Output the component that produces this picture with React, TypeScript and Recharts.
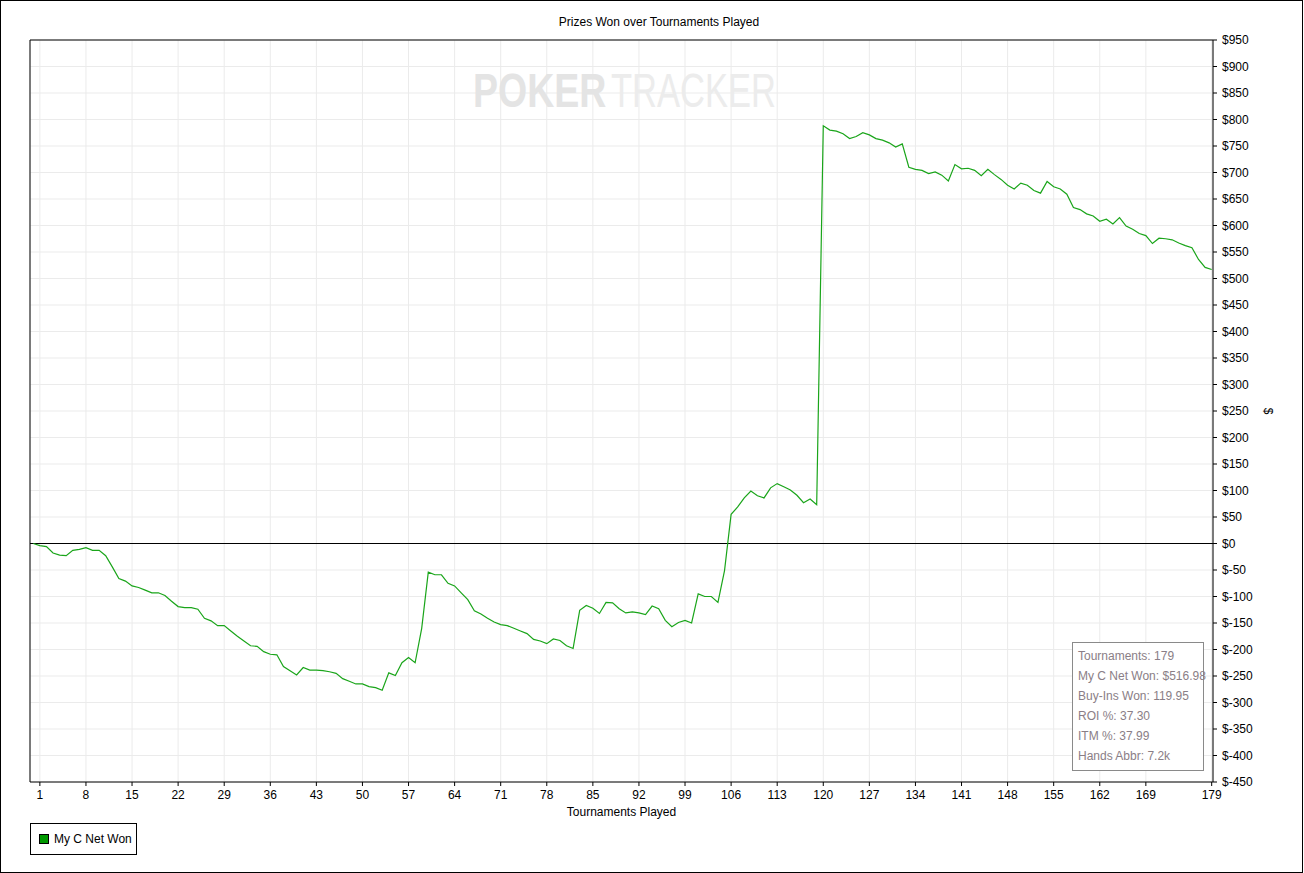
import React from 'react';
import { LineChart, Line, XAxis, YAxis, CartesianGrid, ReferenceLine } from 'recharts';

const tournaments: number[] = Array.from({ length: 180 }, (_, i) => i);
const netWon: number[] = [
  0, -4, -6, -18, -22, -23, -13, -11, -8, -13,
  -13, -23, -44, -66, -71, -80, -83, -88, -93, -93,
  -98, -109, -119, -121, -121, -124, -141, -146, -155, -155,
  -165, -175, -184, -193, -194, -204, -209, -210, -232, -240,
  -248, -234, -239, -239, -240, -242, -245, -255, -260, -265,
  -265, -270, -272, -277, -244, -249, -225, -215, -225, -160,
  -54, -59, -59, -75, -80, -93, -106, -127, -133, -141,
  -148, -153, -155, -160, -165, -170, -181, -184, -189, -180,
  -183, -193, -198, -126, -117, -122, -132, -111, -112, -123,
  -131, -129, -131, -134, -118, -123, -145, -157, -149, -145,
  -150, -95, -100, -100, -111, -51, 55, 69, 86, 99,
  90, 86, 105, 113, 107, 101, 91, 77, 84, 73,
  788, 780, 778, 773, 764, 768, 775, 771, 764, 761,
  756, 748, 754, 710, 706, 704, 698, 701, 695, 684,
  715, 707, 708, 704, 694, 706, 696, 687, 676, 669,
  680, 676, 666, 661, 683, 673, 669, 659, 634, 630,
  622, 618, 608, 612, 603, 615, 599, 593, 585, 581,
  566, 576, 575, 573, 567, 562, 558, 536, 521, 517,
];
const xTicks: number[] = [1, 8, 15, 22, 29, 36, 43, 50, 57, 64, 71, 78, 85, 92, 99, 106, 113, 120, 127, 134, 141, 148, 155, 162, 169, 179];
const yTicks: number[] = [-450, -400, -350, -300, -250, -200, -150, -100, -50, 0, 50, 100, 150, 200, 250, 300, 350, 400, 450, 500, 550, 600, 650, 700, 750, 800, 850, 900, 950];
const statsLines: string[] = [
  'Tournaments: 179',
  'My C Net Won: $516.98',
  'Buy-Ins Won: 119.95',
  'ROI %: 37.30',
  'ITM %: 37.99',
  'Hands Abbr: 7.2k',
];
const seriesName = 'My C Net Won';
const chartTitle = 'Prizes Won over Tournaments Played';
const xTitle = 'Tournaments Played';
const yTitle = '$';
const watermarkBold = 'POKER';
const watermarkLight = 'TRACKER';

const data = tournaments.map((t, i) => ({ t, v: netWon[i] }));

const FONT = 'Arial, "Liberation Sans", sans-serif';

const fmtDollar = (v: number) => (v < 0 ? `$-${Math.abs(v)}` : `$${v}`);

export default function App() {
  return (
    <div style={{ position: 'absolute', left: 0, top: 0, width: 1304, height: 873, background: '#fff', fontFamily: FONT }}>
      <div
        style={{
          position: 'absolute', left: 0, top: 15, width: 659 * 2, textAlign: 'center',
          fontSize: 12, lineHeight: '14px', color: '#000',
        }}
      >
        {chartTitle}
      </div>
      <div style={{ position: 'absolute', left: 0, top: 0 }}>
        <LineChart width={1304} height={873} data={data} margin={{ top: 40, right: 0, bottom: 0, left: 30 }}>
          <CartesianGrid stroke="#ebebeb" strokeWidth={1} />
          <XAxis
            dataKey="t"
            type="number"
            domain={[-0.5, 179.2]}
            allowDataOverflow
            ticks={xTicks}
            interval={0}
            height={91}
            tickSize={4}
            tickMargin={4}
            tickLine={{ stroke: '#000' }}
            axisLine={{ stroke: '#000' }}
            tick={{ fill: '#000', fontSize: 12, fontFamily: FONT }}
            label={(props: any) => {
              const vb = props.viewBox || {};
              return (
                <text x={vb.x + vb.width / 2} y={vb.y + 34} textAnchor="middle" fontSize={12} fontFamily={FONT} fill="#000">
                  {xTitle}
                </text>
              );
            }}
          />
          <YAxis
            orientation="right"
            type="number"
            domain={[-450, 950]}
            allowDataOverflow
            ticks={yTicks}
            interval={0}
            width={91}
            tickSize={4}
            tickMargin={5}
            tickLine={{ stroke: '#000' }}
            axisLine={{ stroke: '#000' }}
            tick={{ fill: '#000', fontSize: 12, fontFamily: FONT }}
            tickFormatter={fmtDollar}
            label={(props: any) => {
              const vb = props.viewBox || {};
              const x = vb.x + 55;
              const y = vb.y + vb.height / 2;
              return (
                <text x={x} y={y} textAnchor="middle" dominantBaseline="central" fontSize={12} fontFamily={FONT} fill="#000" transform={`rotate(90, ${x}, ${y})`}>
                  {yTitle}
                </text>
              );
            }}
          />
          <ReferenceLine x={-0.5} stroke="#000" strokeWidth={1} ifOverflow="extendDomain" />
          <ReferenceLine y={950} stroke="#000" strokeWidth={1} ifOverflow="extendDomain" />
          <ReferenceLine y={0} stroke="#000" strokeWidth={1} />
          <Line
            type="linear"
            dataKey="v"
            name={seriesName}
            stroke="#1aa51a"
            strokeWidth={1.2}
            dot={false}
            activeDot={false}
            isAnimationActive={false}
          />
        </LineChart>
      </div>
      {/* watermark */}
      <svg style={{ position: 'absolute', left: 0, top: 0, pointerEvents: 'none' }} width={1304} height={873}>
        <g transform="translate(473,107) scale(0.765,1)">
          <text x={0} y={0} fontSize={49} fontWeight="bold" fontFamily={FONT} fill="#e4e4e4">{watermarkBold}</text>
        </g>
        <g transform="translate(611,107) scale(0.705,1)">
          <text x={0} y={0} fontSize={49} fontFamily={FONT} fill="#ececec">{watermarkLight}</text>
        </g>
      </svg>
      {/* stats box */}
      <div
        style={{
          position: 'absolute', left: 1072, top: 642, width: 132, height: 129, boxSizing: 'border-box',
          border: '1px solid #8a8a8a', background: '#fff', paddingLeft: 5, paddingTop: 3,
          fontSize: 12, color: '#8a7e86', fontFamily: FONT,
        }}
      >
        {statsLines.map((s) => (
          <div key={s} style={{ height: 20, lineHeight: '20px', whiteSpace: 'nowrap' }}>{s}</div>
        ))}
      </div>
      {/* legend */}
      <div
        style={{
          position: 'absolute', left: 30, top: 823, width: 107, height: 32, boxSizing: 'border-box',
          border: '1px solid #000', background: '#fff', display: 'flex', alignItems: 'center',
          fontSize: 12, color: '#000', fontFamily: FONT,
        }}
      >
        <span style={{ display: 'inline-block', width: 8, height: 8, background: '#009900', border: '1px solid #000', marginLeft: 8, marginRight: 5 }} />
        <span>{seriesName}</span>
      </div>
      {/* outer border */}
      <div style={{ position: 'absolute', left: 0, top: 0, width: 1303, height: 873, boxSizing: 'border-box', border: '1px solid #000', pointerEvents: 'none' }} />
    </div>
  );
}
